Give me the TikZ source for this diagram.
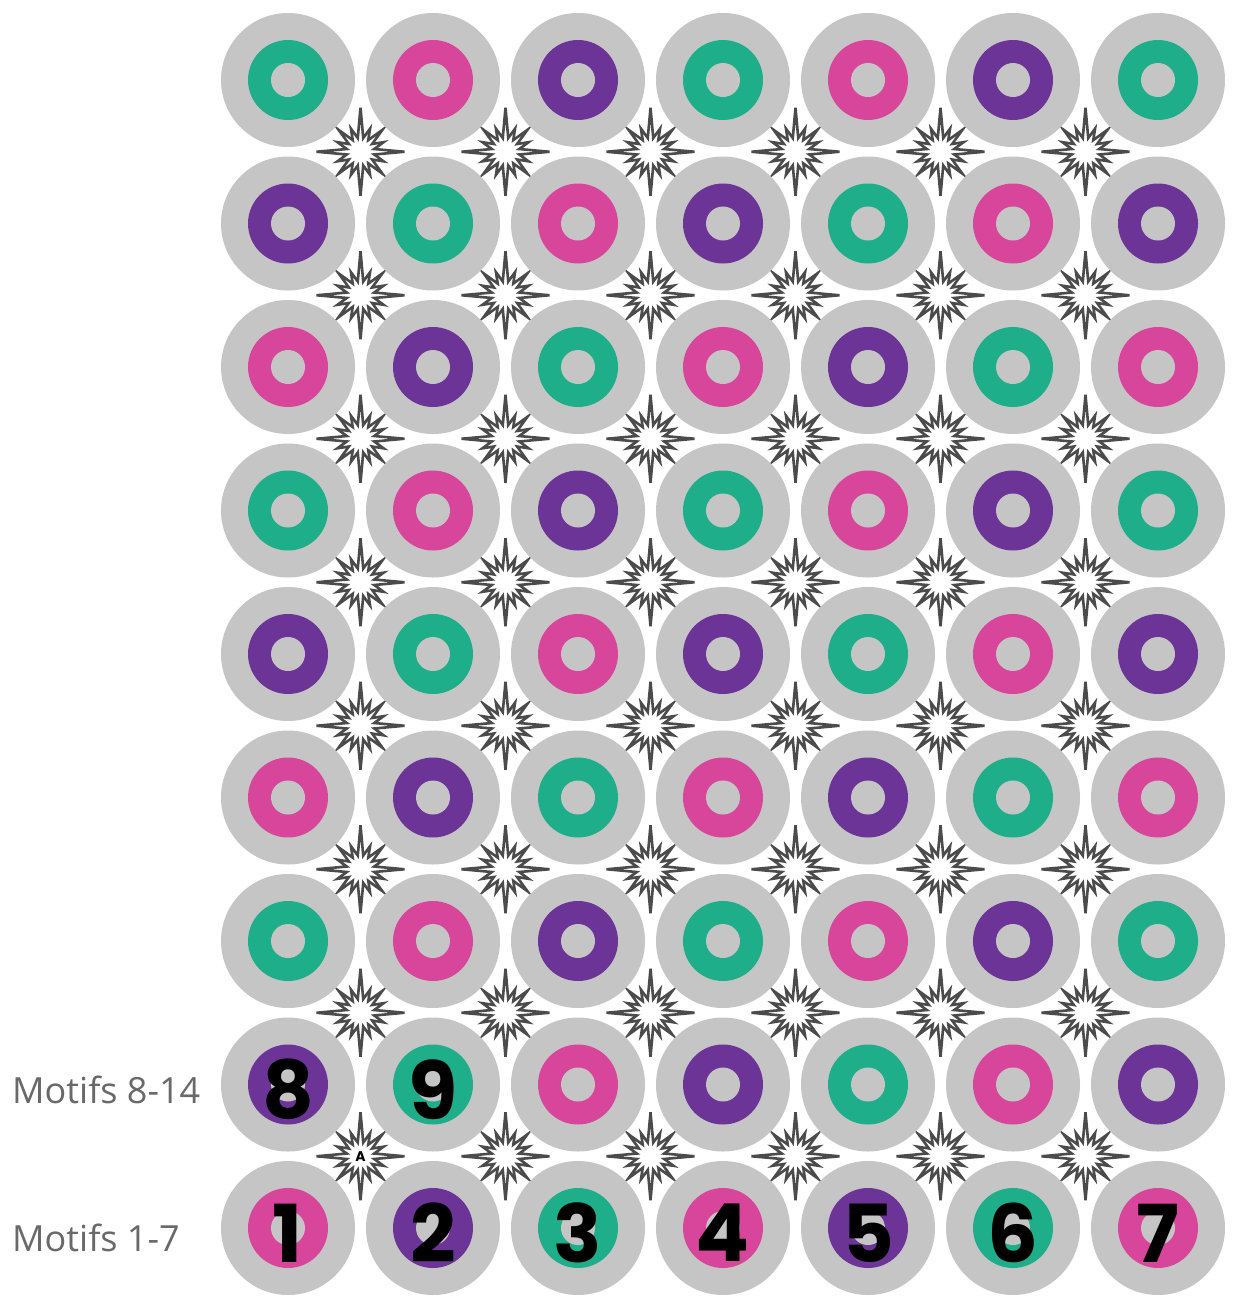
\documentclass[tikz,border=0pt]{standalone}
\usepackage{fontspec}
\setmainfont{Open Sans}
\newfontfamily\digitfont{Poppins}
\definecolor{ringgray}{RGB}{197,197,197}
\definecolor{col0}{RGB}{30,174,138}
\definecolor{col1}{RGB}{216,70,156}
\definecolor{col2}{RGB}{108,52,150}
\definecolor{starink}{RGB}{75,75,75}
\definecolor{labelgray}{RGB}{105,105,105}
\tikzset{
  outerdisc/.style={circle, fill=ringgray, minimum size=134pt, inner sep=0pt},
  starline/.style={draw=starink, line width=2.6pt, fill=white, line join=miter},
  digit/.style={font=\digitfont\bfseries\fontsize{80}{80}\selectfont, text=black, inner sep=0pt, yshift=-5pt},
  motif/.style={font=\fontsize{36}{36}\selectfont, text=labelgray, anchor=west, inner sep=0pt}
}
\begin{document}
\begin{tikzpicture}[x=1pt,y=-1pt]
\useasboundingbox (0,0) rectangle (1235,1304);
\fill[white] (0,0) rectangle (1235,1304);
% stars
\foreach \r in {1,...,8}{
  \foreach \c in {1,...,6}{
    \coordinate (s-\r-\c) at ({288+145*(\c-1)+72.5},{80+143.5*(\r-1)+71.75});
    \begin{scope}[shift={(s-\r-\c)}]
      \draw[starline] (0:44)
        \foreach \a/\R in {22.5/25,45/31,67.5/25,90/44,112.5/25,135/31,157.5/25,180/44,202.5/25,225/31,247.5/25,270/44,292.5/25,315/31,337.5/25,360/44}
        { -- ({\a-11.25}:14) -- (\a:\R) } -- cycle;
    \end{scope}
  }
}
% discs
\foreach \r in {1,...,9}{
  \foreach \c in {1,...,7}{
    \pgfmathtruncatemacro\k{mod(\c-\r+9,3)}
    \node[outerdisc] (c-\r-\c) at ({288+145*(\c-1)},{80+143.5*(\r-1)}) {};
    \fill[col\k] (c-\r-\c) circle (40);
    \fill[ringgray] (c-\r-\c) circle (17);
  }
}
% digits
\node[digit] (d1) at (c-9-1) {1};
\node[digit] (d2) at (c-9-2) {2};
\node[digit] (d3) at (c-9-3) {3};
\node[digit] (d4) at (c-9-4) {4};
\node[digit] (d5) at (c-9-5) {5};
\node[digit] (d6) at (c-9-6) {6};
\node[digit] (d7) at (c-9-7) {7};
\node[digit] (d8) at (c-8-1) {8};
\node[digit] (d9) at (c-8-2) {9};
\node[font=\digitfont\bfseries\fontsize{14}{14}\selectfont, inner sep=0pt] (labA) at (s-8-1) {A};
% labels
\node[motif] (m814) at (12,1090) {Motifs 8-14};
\node[motif] (m17) at (12,1238) {Motifs 1-7};
\end{tikzpicture}
\end{document}
